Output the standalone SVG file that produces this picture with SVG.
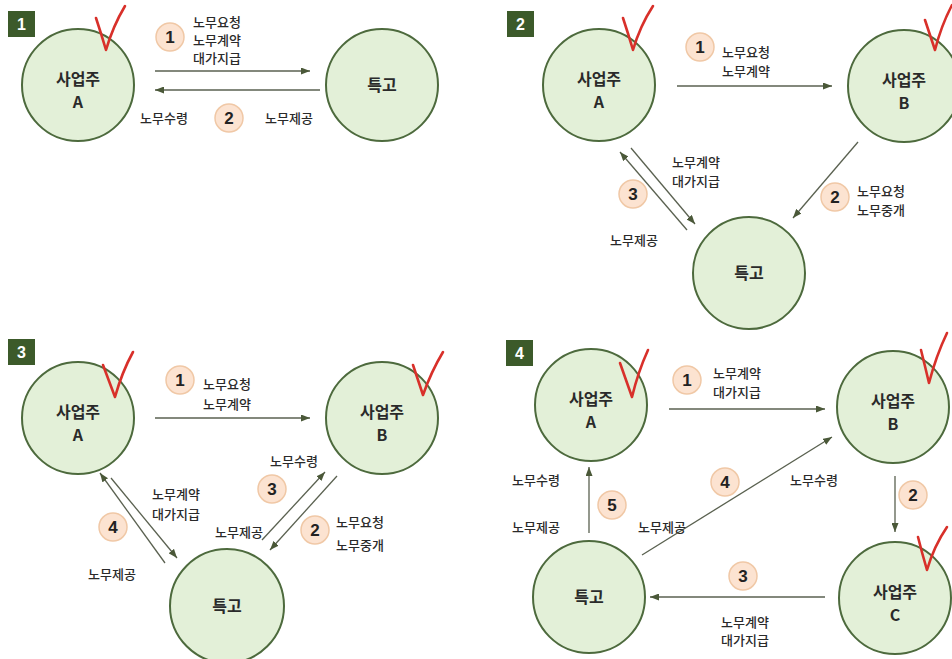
<svg xmlns="http://www.w3.org/2000/svg" width="952" height="659" viewBox="0 0 952 659">
<defs>
<style>
.node{fill:#e3f0d8;stroke:#4d6a3d;stroke-width:2}
.nt{font-family:"Noto Sans CJK KR","Noto Sans",sans-serif;font-size:16px;font-weight:bold;fill:#2a2a2a;text-anchor:middle}
.lb{font-family:"Noto Sans CJK KR","Noto Sans",sans-serif;font-size:13px;font-weight:500;fill:#2a2a2a}
.bd{fill:#fce3d1;stroke:#f0c8a6;stroke-width:1.5}
.bn{font-family:"Liberation Sans","Noto Sans",sans-serif;font-size:17px;font-weight:bold;fill:#222;text-anchor:middle}
.box{fill:#3c5a2a}
.bx{font-family:"Liberation Sans",sans-serif;font-size:16px;font-weight:bold;fill:#fff;text-anchor:middle}
.ck{fill:none;stroke:#d8302a;stroke-width:2.6;stroke-linecap:round;stroke-linejoin:round}
.ar{fill:none;stroke:#5a6150;stroke-width:1.3;marker-end:url(#ah)}
</style>
<marker id="ah" markerUnits="userSpaceOnUse" markerWidth="9" markerHeight="7" refX="9" refY="3.5" orient="auto">
<path d="M0,0 L9,3.5 L0,7 z" fill="#4a5838"/>
</marker>
</defs>
<rect width="952" height="659" fill="#fff"/>

<!-- Panel 1 -->
<g id="p1-box"><rect class="box" x="8" y="11" width="27" height="26"/><text class="bx" x="21.5" y="30">1</text></g>
<g id="p1-A"><circle class="node" cx="78" cy="85" r="56"/><text class="nt" x="78" y="85">사업주</text><text class="nt" x="78" y="108">A</text><path class="ck" d="M96,18 Q101,33 106,50 Q113,26 125,6"/></g>
<g id="p1-T"><circle class="node" cx="382" cy="85" r="56"/><text class="nt" x="382" y="91">특고</text></g>

<!-- Panel 2 -->
<g id="p2-box"><rect class="box" x="507" y="11" width="27" height="26"/><text class="bx" x="520.5" y="30">2</text></g>
<g id="p2-A"><circle class="node" cx="599" cy="85" r="56"/><text class="nt" x="599" y="85">사업주</text><text class="nt" x="599" y="108">A</text><path class="ck" d="M623,18 Q628,33 633,50 Q640,26 653,6"/></g>
<g id="p2-B"><circle class="node" cx="904" cy="86" r="56"/><text class="nt" x="904" y="86">사업주</text><text class="nt" x="904" y="109">B</text><path class="ck" d="M925,20 Q930,35 935,50 Q941,26 952,5"/></g>
<g id="p2-T"><circle class="node" cx="749" cy="273" r="56"/><text class="nt" x="749" y="279">특고</text></g>

<!-- Panel 3 -->
<g id="p3-box"><rect class="box" x="8" y="339" width="27" height="26"/><text class="bx" x="21.5" y="358">3</text></g>
<g id="p3-A"><circle class="node" cx="78" cy="418" r="56"/><text class="nt" x="78" y="418">사업주</text><text class="nt" x="78" y="441">A</text><path class="ck" d="M103,365 Q109,381 115,397 Q122,372 133,352"/></g>
<g id="p3-B"><circle class="node" cx="382" cy="418" r="56"/><text class="nt" x="382" y="418">사업주</text><text class="nt" x="382" y="441">B</text><path class="ck" d="M413,365 Q418,380 423,395 Q431,372 443,352"/></g>
<g id="p3-T"><circle class="node" cx="227" cy="606" r="57"/><text class="nt" x="227" y="612">특고</text></g>

<!-- Panel 4 -->
<g id="p4-box"><rect class="box" x="506" y="340" width="27" height="26"/><text class="bx" x="519.5" y="359">4</text></g>
<g id="p4-A"><circle class="node" cx="591" cy="405" r="56"/><text class="nt" x="591" y="405">사업주</text><text class="nt" x="591" y="428">A</text><path class="ck" d="M620,363 Q626,380 632,397 Q638,372 648,350"/></g>
<g id="p4-B"><circle class="node" cx="893" cy="407" r="56"/><text class="nt" x="893" y="407">사업주</text><text class="nt" x="893" y="430">B</text><path class="ck" d="M921,350 Q925,366 929,383 Q936,356 947,333"/></g>
<g id="p4-T"><circle class="node" cx="589" cy="597" r="56"/><text class="nt" x="589" y="603">특고</text></g>
<g id="p4-C"><circle class="node" cx="895" cy="598" r="56"/><text class="nt" x="895" y="598">사업주</text><text class="nt" x="895" y="621">C</text><path class="ck" d="M918,537 Q922,553 927,570 Q934,546 947,527"/></g>

<!-- Connectors -->
<g id="connectors">
<line class="ar" x1="155" y1="71" x2="310" y2="71"/>
<line class="ar" x1="320" y1="90" x2="155" y2="90"/>
<line class="ar" x1="677" y1="86" x2="832" y2="86"/>
<line class="ar" x1="858" y1="142" x2="793" y2="218"/>
<line class="ar" x1="687" y1="230" x2="620" y2="152"/>
<line class="ar" x1="631" y1="148" x2="695" y2="224"/>
<line class="ar" x1="155" y1="418" x2="310" y2="418"/>
<line class="ar" x1="165" y1="563" x2="100" y2="473"/>
<line class="ar" x1="111" y1="478" x2="177" y2="558"/>
<line class="ar" x1="262" y1="540" x2="325" y2="472"/>
<line class="ar" x1="337" y1="476" x2="270" y2="550"/>
<line class="ar" x1="669" y1="409" x2="825" y2="409"/>
<line class="ar" x1="642" y1="555" x2="832" y2="437"/>
<line class="ar" x1="589" y1="533" x2="589" y2="467"/>
<line class="ar" x1="895" y1="476" x2="895" y2="532"/>
<line class="ar" x1="825" y1="597" x2="650" y2="597"/>
</g>

<!-- Badges -->
<g id="badges">
<circle class="bd" cx="170" cy="37" r="14"/><text class="bn" x="170" y="43">1</text>
<circle class="bd" cx="229" cy="118" r="14"/><text class="bn" x="229" y="124">2</text>
<circle class="bd" cx="700" cy="47" r="14"/><text class="bn" x="700" y="53">1</text>
<circle class="bd" cx="633" cy="194" r="14"/><text class="bn" x="633" y="200">3</text>
<circle class="bd" cx="835" cy="197" r="14"/><text class="bn" x="835" y="203">2</text>
<circle class="bd" cx="180" cy="380" r="14"/><text class="bn" x="180" y="386">1</text>
<circle class="bd" cx="113" cy="527" r="14"/><text class="bn" x="113" y="533">4</text>
<circle class="bd" cx="272" cy="489" r="14"/><text class="bn" x="272" y="495">3</text>
<circle class="bd" cx="315" cy="530" r="14"/><text class="bn" x="315" y="536">2</text>
<circle class="bd" cx="687" cy="380" r="14"/><text class="bn" x="687" y="386">1</text>
<circle class="bd" cx="725" cy="482" r="14"/><text class="bn" x="725" y="488">4</text>
<circle class="bd" cx="612" cy="505" r="14"/><text class="bn" x="612" y="511">5</text>
<circle class="bd" cx="913" cy="495" r="14"/><text class="bn" x="913" y="501">2</text>
<circle class="bd" cx="743" cy="576" r="14"/><text class="bn" x="743" y="582">3</text>
</g>

<!-- Labels -->
<g id="labels">
<text class="lb" x="193" y="27">노무요청</text>
<text class="lb" x="193" y="45">노무계약</text>
<text class="lb" x="193" y="63">대가지급</text>
<text class="lb" x="140" y="123">노무수령</text>
<text class="lb" x="265" y="123">노무제공</text>

<text class="lb" x="722" y="57">노무요청</text>
<text class="lb" x="722" y="76">노무계약</text>
<text class="lb" x="672" y="167">노무계약</text>
<text class="lb" x="672" y="186">대가지급</text>
<text class="lb" x="610" y="245">노무제공</text>
<text class="lb" x="857" y="196">노무요청</text>
<text class="lb" x="857" y="215">노무중개</text>

<text class="lb" x="203" y="389">노무요청</text>
<text class="lb" x="203" y="409">노무계약</text>
<text class="lb" x="270" y="466">노무수령</text>
<text class="lb" x="152" y="499">노무계약</text>
<text class="lb" x="152" y="519">대가지급</text>
<text class="lb" x="88" y="579">노무제공</text>
<text class="lb" x="215" y="537">노무제공</text>
<text class="lb" x="336" y="527">노무요청</text>
<text class="lb" x="336" y="550">노무중개</text>

<text class="lb" x="713" y="378">노무계약</text>
<text class="lb" x="713" y="397">대가지급</text>
<text class="lb" x="790" y="485">노무수령</text>
<text class="lb" x="638" y="532">노무제공</text>
<text class="lb" x="512" y="485">노무수령</text>
<text class="lb" x="512" y="532">노무제공</text>
<text class="lb" x="745" y="627" text-anchor="middle">노무계약</text>
<text class="lb" x="745" y="645" text-anchor="middle">대가지급</text>
</g>
</svg>
